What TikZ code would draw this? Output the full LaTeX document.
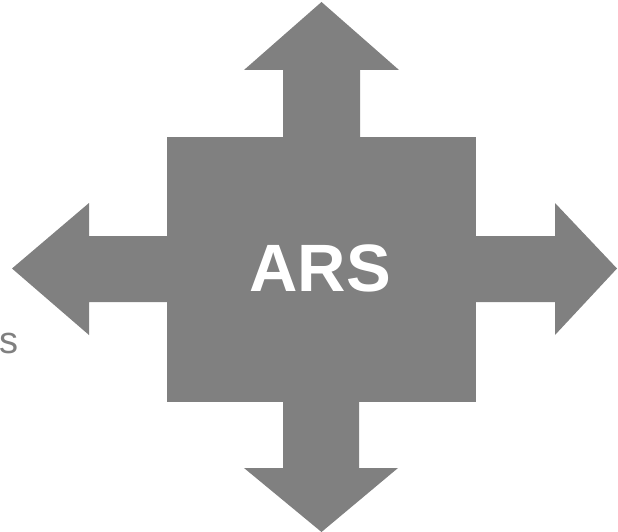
\documentclass[tikz,border=0pt]{standalone}
\usepackage{fontspec}
\setmainfont{Liberation Sans}
\usepackage{tikz}
\usetikzlibrary{arrows.meta, positioning}
\usepackage{xcolor}
\definecolor{arsgray}{RGB}{128,128,128}

\begin{document}
\begin{tikzpicture}[x=1pt, y=-1pt, >=Stealth]
        \useasboundingbox (0,0) rectangle (618,532);

        % --- Bloc central ---
        \fill[arsgray] (167,137) rectangle (476,402);

        % Fleche du haut
        \fill[arsgray] (283,138) -- (283,70) -- (244,70) -- (321.5,2)
            -- (399,70) -- (360,70) -- (360,138) -- cycle;

        % Fleche du bas
        \fill[arsgray] (283,401) -- (283,468) -- (244,468) -- (321.5,532)
            -- (398,468) -- (359,468) -- (359,401) -- cycle;

        % Fleche de gauche
        \fill[arsgray] (168,236) -- (89,236) -- (89,203) -- (12,268.5)
            -- (89,335) -- (89,302) -- (168,302) -- cycle;

        % Fleche de droite
        \fill[arsgray] (475,236) -- (555,236) -- (555,203) -- (617,268.5)
            -- (555,335) -- (555,302) -- (475,302) -- cycle;

        % --- Textes ---
        \node[inner sep=0pt, text=white, font=\fontsize{67}{80}\selectfont\bfseries]
            (ars) at (320,268) {ARS};
        \node[inner sep=0pt, anchor=base west, text=arsgray, font=\fontsize{38}{46}\selectfont]
            (lettre) at (-1,353) {s};
    \end{tikzpicture}
\end{document}
